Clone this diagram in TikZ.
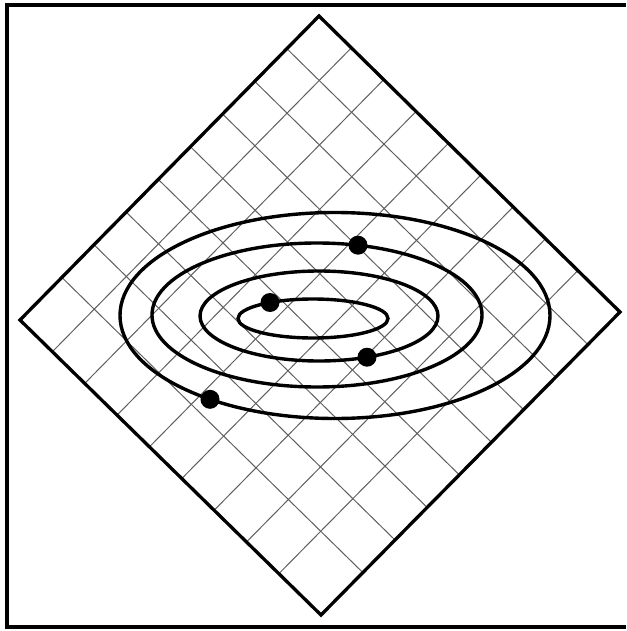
\documentclass[tikz,border=0pt]{standalone}
\usetikzlibrary{calc}
\definecolor{gridgray}{RGB}{95,95,95}

\begin{document}
\begin{tikzpicture}[x=1pt, y=-1pt, line join=miter,
    gridline/.style={gridgray, line width=1pt},
    contour/.style={line width=3.4pt},
    spot/.style={fill=black}]
    \useasboundingbox (0,0) rectangle (626,631);
    % frame, open on the right
    \draw[line width=3.8pt] (626,5) -- (7,5) -- (7,627) -- (626,627);
    % square domain turned by 45 degrees
    \coordinate (T) at (319,16);
    \coordinate (R) at (620,312);
    \coordinate (B) at (321,615);
    \coordinate (L) at (20,320);
    \foreach \k in {1,...,8} {
        \draw[gridline] ($(T)!\k*0.1075!(L)$) -- ($(R)!\k*0.1075!(B)$);
        \draw[gridline] ($(T)!\k*0.1075!(R)$) -- ($(L)!\k*0.1075!(B)$);
    }
    \draw[line width=3.3pt] (T) -- (R) -- (B) -- (L) -- cycle;
    % level sets
    \draw[contour] (335,315.5) ellipse [x radius=215, y radius=103];
    \draw[contour] (317,315) ellipse [x radius=165, y radius=72];
    \draw[contour] (319,316) ellipse [x radius=119, y radius=45];
    \draw[contour] (313,318.5) ellipse [x radius=75, y radius=19.5];
    % sample points
    \fill[spot] (358,245.2) circle [radius=9.5];
    \fill[spot] (270,302.5) circle [radius=9.5];
    \fill[spot] (367,357.2) circle [radius=9.5];
    \fill[spot] (210,399.3) circle [radius=9.5];
\end{tikzpicture}
\end{document}
